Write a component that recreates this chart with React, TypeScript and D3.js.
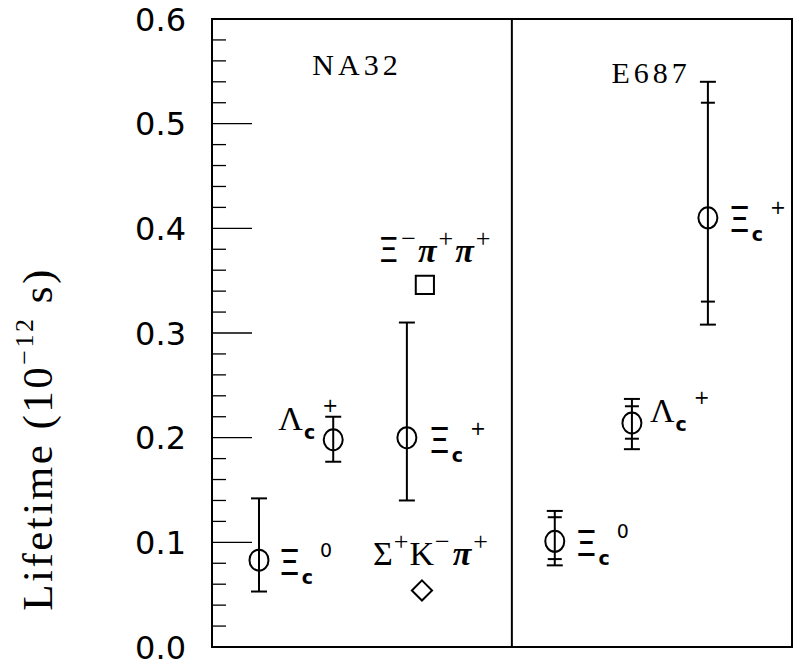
import React from "react";
import * as d3 from "d3";

// lifetime measurements, units of 1e-12 s
const experiments = ["NA32", "E687"];
const experimentX = [2.5, 7.57];
const dividerX = 5.17;

const pointExp = ["NA32", "NA32", "NA32", "E687", "E687", "E687"];
const pointX = [0.81, 2.09, 3.36, 5.91, 7.24, 8.55];
const pointBase = ["Ξ", "Λ", "Ξ", "Ξ", "Λ", "Ξ"];
const pointSup = ["0", "+", "+", "0", "+", "+"];
const lifetime = [0.083, 0.198, 0.2, 0.101, 0.214, 0.41];
// statistical (inner) errors
const statUp = [0.059, 0.022, 0.11, 0.023, 0.016, 0.11];
const statDown = [0.03, 0.021, 0.06, 0.017, 0.015, 0.08];
// total errors (outer caps), only E687 quotes both
const totUp = [0.059, 0.022, 0.11, 0.029, 0.023, 0.13];
const totDown = [0.03, 0.021, 0.06, 0.023, 0.025, 0.102];

// decay mode markers in the NA32 panel
const modeX = [3.67, 3.62];
const modeY = [0.346, 0.054];
const modeShape = ["square", "diamond"];

const yTicks = [0, 0.1, 0.2, 0.3, 0.4, 0.5, 0.6];

export default function App() {
  const width = 793,
    height = 666;
  const x = d3.scaleLinear().domain([0, 10]).range([212, 792]);
  const y = d3.scaleLinear().domain([0, 0.6]).range([647, 19]);
  const minor = d3.range(0, 0.6001, 0.02);

  const serif = "Liberation Serif";
  const greek = (c: string) => (c === "Ξ" ? "DejaVu Sans" : serif);
  const labelOff = [
    [19, 15],
    [-55, -10],
    [21, 15],
    [20, 15],
    [18, -1],
    [20, 14],
  ];

  return (
    <svg
      width={width}
      height={height}
      style={{ position: "absolute", left: 0, top: 0, background: "#fff" }}
    >
      {/* frame */}
      <rect
        x={x(0)}
        y={y(0.6)}
        width={x(10) - x(0)}
        height={y(0) - y(0.6)}
        fill="none"
        stroke="#000"
        strokeWidth={2}
      />
      <line x1={x(dividerX)} x2={x(dividerX)} y1={y(0.6)} y2={y(0)} stroke="#000" strokeWidth={2} />

      {/* y ticks */}
      {minor.map((v, i) => {
        const major = i % 5 === 0;
        return (
          <line
            key={"t" + i}
            x1={x(0)}
            x2={x(0) + (major ? 40 : 14)}
            y1={y(v)}
            y2={y(v)}
            stroke="#000"
            strokeWidth={1.3}
          />
        );
      })}
      {yTicks.map((v) => (
        <text
          key={"l" + v}
          x={186}
          y={y(v)}
          dy="0.36em"
          textAnchor="end"
          fontFamily="DejaVu Sans"
          fontSize={32}
          fill="#000"
        >
          {d3.format(".1f")(v)}
        </text>
      ))}

      {/* axis title */}
      <text
        transform={`translate(52,${439}) rotate(-90)`}
        textAnchor="middle"
        fontFamily={serif}
        fontSize={43}
        letterSpacing={2.5}
        fill="#000"
      >
        Lifetime (10
        <tspan fontSize={26} dy={-19}>−12</tspan>
        <tspan dy={19}> s)</tspan>
      </text>

      {/* experiment names */}
      {experiments.map((e, i) => (
        <text
          key={e}
          x={x(experimentX[i])}
          y={i === 0 ? 75 : 83}
          textAnchor="middle"
          fontFamily={serif}
          fontSize={30}
          letterSpacing={4}
          fill="#000"
        >
          {e}
        </text>
      ))}

      {/* error bars and points */}
      {lifetime.map((v, i) => {
        const cx = x(pointX[i]);
        const cy = y(v);
        const hasSys = pointExp[i] === "E687";
        const top = y(v + totUp[i]);
        const bot = y(v - totDown[i]);
        return (
          <g key={"p" + i} stroke="#000" strokeWidth={2} fill="none">
            <line x1={cx} x2={cx} y1={top} y2={bot} />
            <line x1={cx - 8} x2={cx + 8} y1={top} y2={top} />
            <line x1={cx - 8} x2={cx + 8} y1={bot} y2={bot} />
            {hasSys && (
              <>
                <line x1={cx - 7} x2={cx + 7} y1={y(v + statUp[i])} y2={y(v + statUp[i])} />
                <line x1={cx - 7} x2={cx + 7} y1={y(v - statDown[i])} y2={y(v - statDown[i])} />
              </>
            )}
            <ellipse cx={cx} cy={cy} rx={9.5} ry={10.5} fill="#fff" />
            <line x1={cx} x2={cx} y1={cy - 10} y2={cy + 10} />
          </g>
        );
      })}

      {/* particle labels */}
      {lifetime.map((v, i) => (
        <text
          key={"n" + i}
          x={x(pointX[i]) + labelOff[i][0]}
          y={y(v) + labelOff[i][1]}
          fontFamily={greek(pointBase[i])}
          fontSize={pointBase[i] === "Ξ" ? 36 : 34}
          fill="#000"
        >
          {pointBase[i]}
          <tspan fontFamily="DejaVu Sans" fontWeight="bold" fontSize={19} dx={1} dy={9}>
            c
          </tspan>
          <tspan fontFamily="DejaVu Sans" fontSize={19} dx={7} dy={-27}>
            {pointSup[i]}
          </tspan>
        </text>
      ))}

      {/* decay mode markers */}
      {modeX.map((mx, i) => {
        const cx = x(mx);
        const cy = y(modeY[i]);
        const sym = d3
          .symbol()
          .type(modeShape[i] === "square" ? d3.symbolSquare : d3.symbolDiamond2)
          .size(modeShape[i] === "square" ? 330 : 260)();
        return (
          <path
            key={"m" + i}
            d={sym}
            transform={`translate(${cx},${cy})`}
            fill="none"
            stroke="#000"
            strokeWidth={2}
          />
        );
      })}
      <text x={x(modeX[0]) - 47} y={y(modeY[0]) - 23} fontFamily={serif} fontSize={34} fill="#000">
        <tspan fontFamily="DejaVu Sans" fontSize={34}>Ξ</tspan>
        <tspan fontSize={26} dx={2} dy={-15}>−</tspan>
        <tspan fontStyle="italic" fontWeight="bold" dx={2} dy={15}>π</tspan>
        <tspan fontSize={26} dx={2} dy={-15}>+</tspan>
        <tspan fontStyle="italic" fontWeight="bold" dx={2} dy={15}>π</tspan>
        <tspan fontSize={26} dx={2} dy={-15}>+</tspan>
      </text>
      <text x={x(modeX[1]) - 49} y={y(modeY[1]) - 25} fontFamily={serif} fontSize={34} fill="#000">
        Σ
        <tspan fontSize={26} dx={1} dy={-15}>+</tspan>
        <tspan dx={1} dy={15}>K</tspan>
        <tspan fontSize={26} dx={1} dy={-15}>−</tspan>
        <tspan fontStyle="italic" fontWeight="bold" dx={3} dy={15}>π</tspan>
        <tspan fontSize={26} dx={2} dy={-15}>+</tspan>
      </text>
    </svg>
  );
}
